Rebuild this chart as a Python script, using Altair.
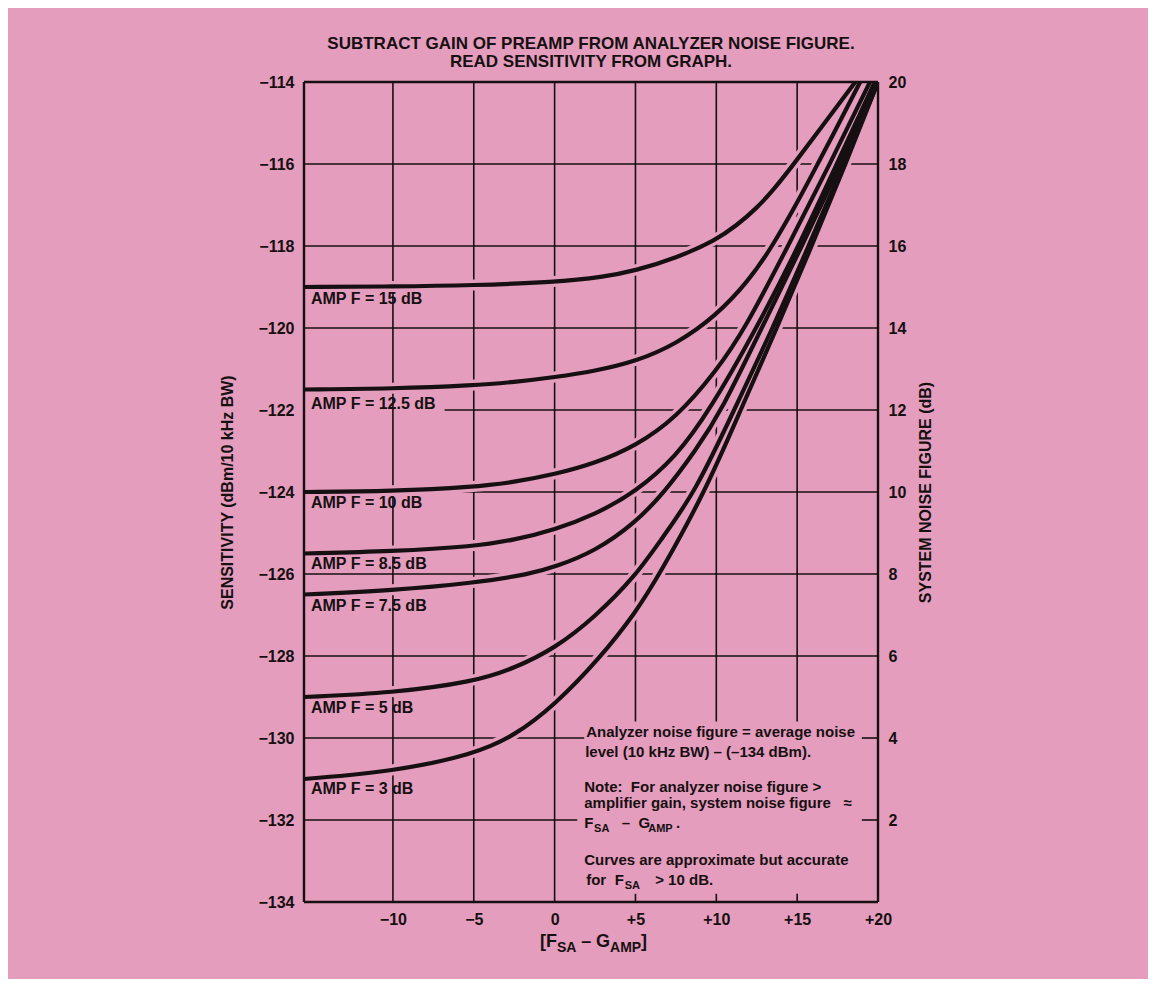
import altair as alt
import pandas as pd

PINK = "#E59DBD"
INK = "#161012"
FONT = "Liberation Sans"

# ---------------- data ----------------
curve_names = ["AMP F = 15 dB", "AMP F = 12.5 dB", "AMP F = 10 dB", "AMP F = 8.5 dB",
               "AMP F = 7.5 dB", "AMP F = 5 dB", "AMP F = 3 dB"]

amp15_x = [-15.5, -10, -5, 0, 3, 5, 7.5, 10, 11.25, 12.5, 13.6, 14.7, 16.7, 18.6]
amp15_y = [-119.0, -118.99, -118.96, -118.88, -118.76, -118.6, -118.3, -117.85, -117.5,
           -117.08, -116.6, -116.05, -115.0, -114.0]

amp125_x = [-15.5, -10, -5, -2.5, 0, 2.5, 5, 7.5, 10, 12, 13.4, 15, 16.2, 17.6, 18.9]
amp125_y = [-121.5, -121.48, -121.4, -121.32, -121.2, -121.05, -120.82, -120.4, -119.7,
            -118.85, -118.05, -116.95, -116.05, -115.0, -114.0]

amp10_x = [-15.5, -10, -5, -2.5, 0, 2.5, 5, 7.5, 10, 11.8, 14.3, 16.9, 19.5]
amp10_y = [-124.0, -123.98, -123.88, -123.76, -123.57, -123.3, -122.88, -122.2, -121.05,
           -120.0, -118.1, -116.1, -114.0]

amp85_x = [-15.5, -10, -5, -2.5, 0, 2.5, 5, 7.5, 9.6, 12.5, 15.1, 17.45, 19.8]
amp85_y = [-125.5, -125.45, -125.33, -125.17, -124.92, -124.55, -124.0, -123.15, -122.0,
           -120.0, -118.0, -116.0, -114.0]

amp75_x = [-15.5, -10, -5, -1.5, 0, 2.5, 5, 6.8, 8.7, 10.35, 12.8, 15.3, 17.7, 20]
amp75_y = [-126.5, -126.4, -126.22, -126.0, -125.83, -125.45, -124.75, -124.0, -123.0,
           -122.0, -120.0, -118.0, -116.0, -114.0]

amp5_x = [-15.5, -10, -5, -2.5, 0, 2.5, 5, 6.6, 8.7, 11.1, 13.5, 15.7, 17.9, 20]
amp5_y = [-129.0, -128.9, -128.63, -128.3, -127.82, -127.05, -126.05, -125.15, -124.0,
          -122.0, -120.0, -118.0, -116.0, -114.0]

amp3_x = [-15.5, -10, -5, -2.5, 0, 2.8, 5, 6.5, 9.3, 11.5, 13.75, 15.9, 18.0, 20]
amp3_y = [-131.0, -130.82, -130.4, -129.95, -129.2, -128.05, -126.95, -126.0, -124.0,
          -122.0, -120.0, -118.0, -116.0, -114.0]

curve_xs = [amp15_x, amp125_x, amp10_x, amp85_x, amp75_x, amp5_x, amp3_x]
curve_ys = [amp15_y, amp125_y, amp10_y, amp85_y, amp75_y, amp5_y, amp3_y]

# curve label anchors (data units)
label_x = [-15.07] * 7
label_y = [-119.3, -121.85, -124.27, -125.76, -126.78, -129.27, -131.24]

# axes
x_ticks = [-10, -5, 0, 5, 10, 15, 20]
y_ticks = list(range(-134, -113, 2))
nf_ticks = list(range(2, 21, 2))
x_domain = [-15.5, 20]
y_domain = [-134, -114]

# grid segments: (x, x2, y, y2)
grid_segments = (
    [(v, v, -134, -114) for v in [-10, -5, 0]]
    + [(v, v, -129.6, -114) for v in [5, 10, 15]]
    + [(v, v, -134, -133.8) for v in [5, 10, 15]]
    + [(-15.5, 20, h, h) for h in [-116, -118, -120, -124, -126, -128]]
    + [(-6.8, 20, -122, -122)]
    + [(-15.5, 1.83, -130, -130), (19.0, 20, -130, -130)]
    + [(-15.5, 1.4, -132, -132), (19.0, 20, -132, -132)]
)
frame_segments = [(-15.5, -15.5, -134, -114), (20, 20, -134, -114),
                  (-15.5, 20, -114, -114), (-15.5, 20, -134, -134)]

# note texts (text, x, y, size)
notes = [
    ("Analyzer noise figure = average noise", 1.95, -129.85, 15),
    ("level (10 kHz BW) \u2013 (\u2013134 dBm).", 1.89, -130.34, 15),
    ("Note:\u00a0 For analyzer noise figure >", 1.83, -131.20, 15),
    ("amplifier gain, system noise figure\u00a0\u00a0\u00a0\u2248", 1.83, -131.59, 15),
    ("F", 1.83, -132.07, 15),
    ("SA", 2.44, -132.22, 11),
    ("\u2013", 4.15, -132.07, 15),
    ("G", 5.18, -132.07, 15),
    ("AMP", 5.79, -132.22, 11),
    (".", 7.5, -132.07, 15),
    ("Curves are approximate but accurate", 1.83, -132.98, 15),
    ("for", 1.95, -133.46, 15),
    ("F", 3.72, -133.46, 15),
    ("SA", 4.33, -133.61, 11),
    ("> 10 dB.", 6.22, -133.46, 15),
    # x axis title  [F_SA - G_AMP]
    ("[F", -0.91, -134.98, 18),
    ("SA", 0.14, -135.12, 14),
    ("\u2013", 1.64, -134.98, 18),
    ("G", 2.56, -134.98, 18),
    ("AMP", 3.43, -135.12, 14),
    ("]", 5.35, -134.98, 18),
]

# ---------------- tables ----------------
rows = []
for name, xs, ys in zip(curve_names, curve_xs, curve_ys):
    for i, (a, b) in enumerate(zip(xs, ys)):
        rows.append({"curve": name, "order": i, "x": a, "y": b})
curves = pd.DataFrame(rows)
labels = pd.DataFrame({"text": curve_names, "x": label_x, "y": label_y})
grid = pd.DataFrame(grid_segments, columns=["x", "x2", "y", "y2"])
frame = pd.DataFrame(frame_segments, columns=["x", "x2", "y", "y2"])
note_df = pd.DataFrame(notes, columns=["text", "x", "y", "size"])
nf_df = pd.DataFrame({"nf": nf_ticks})

# ---------------- encodings ----------------
xsc = alt.Scale(domain=x_domain, nice=False, zero=False)
ysc = alt.Scale(domain=y_domain, nice=False, zero=False)
xaxis = alt.Axis(values=x_ticks, ticks=False, grid=False, domain=False, title=None,
                 labelExpr="datum.value > 0 ? '+' + datum.value : (datum.value < 0 ? '\u2212' + abs(datum.value) : '0')",
                 labelPadding=9, labelFlush=False)
yaxis = alt.Axis(values=y_ticks, ticks=False, grid=False, domain=False,
                 title="SENSITIVITY (dBm/10 kHz BW)", labelPadding=10, titlePadding=22)


def X(f="x"):
    return alt.X(f, type="quantitative", scale=xsc, axis=xaxis)


def Y(f="y"):
    return alt.Y(f, type="quantitative", scale=ysc, axis=yaxis)


grid_layer = alt.Chart(grid).mark_rule(color=INK, strokeWidth=1.6).encode(
    x=X(), x2="x2", y=Y(), y2="y2")

halo_layer = alt.Chart(curves).mark_line(color=PINK, strokeWidth=11, interpolate="basis",
                                         clip=True).encode(
    x=X(), y=Y(), detail="curve:N", order="order:Q")

curve_layer = alt.Chart(curves).mark_line(color=INK, strokeWidth=4.2, interpolate="basis",
                                          clip=True).encode(
    x=X(), y=Y(), detail="curve:N", order="order:Q")

label_layer = alt.Chart(labels).mark_text(align="left", baseline="middle", font=FONT,
                                          fontWeight="bold", fontSize=16, color=INK).encode(
    x=X(), y=Y(), text="text:N")

note_layer = alt.Chart(note_df).mark_text(align="left", baseline="middle", font=FONT,
                                          fontWeight="bold", color=INK).encode(
    x=X(), y=Y(), text="text:N", size=alt.Size("size:Q", scale=None, legend=None))

frame_layer = alt.Chart(frame).mark_rule(color=INK, strokeWidth=2.4).encode(
    x=X(), x2="x2", y=Y(), y2="y2")

main = alt.layer(grid_layer, halo_layer, curve_layer, label_layer, note_layer, frame_layer)

right_layer = alt.Chart(nf_df).mark_point(opacity=0).encode(
    x=alt.value(0),
    y=alt.Y("nf:Q", scale=alt.Scale(domain=[0, 20], nice=False, zero=False),
            axis=alt.Axis(orient="right", values=nf_ticks, format="d", ticks=False,
                          grid=False, domain=False, labelPadding=10,
                          title="SYSTEM NOISE FIGURE (dB)", titleAngle=270,
                          titleBaseline="top", titlePadding=12)))

chart = alt.layer(main, right_layer).resolve_scale(y="independent").properties(
    width=574, height=820,
    background=PINK,
    autosize=alt.AutoSizeParams(type="none"),
    padding={"left": 296, "top": 74, "right": 270, "bottom": 77},
    title=alt.TitleParams(
        text=["SUBTRACT GAIN OF PREAMP FROM ANALYZER NOISE FIGURE.",
              "READ SENSITIVITY FROM GRAPH."],
        font=FONT, fontSize=17, fontWeight="bold", color=INK, anchor="middle",
        frame="group", offset=3, lineHeight=18),
).configure_view(stroke=None).configure_axis(
    labelFont=FONT, labelFontSize=16, labelFontWeight="bold", labelColor=INK,
    titleFont=FONT, titleFontSize=16, titleFontWeight="bold", titleColor=INK,
)

chart.save("out.html", embed_options={"renderer": "svg", "actions": False})
